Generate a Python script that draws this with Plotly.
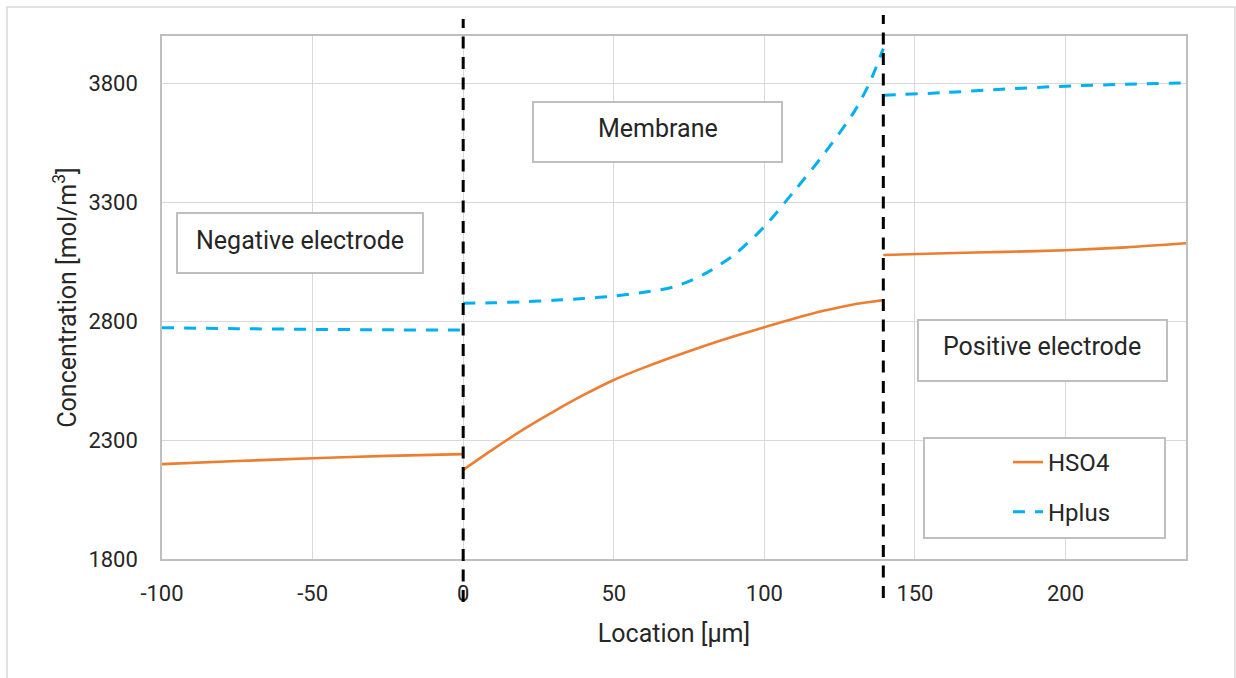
import plotly.graph_objects as go

# Location [µm] samples for the three regions of the cell
neg_x = [-100, -75, -50, -25, 0]
mem_x = [0, 10, 20, 30, 40, 50, 60, 70, 80, 90, 100, 110, 120, 130, 135, 139.5]
pos_x = [139.5, 160, 180, 200, 220, 240]

# HSO4 concentration [mol/m3]
neg_hso4 = [2199, 2212, 2224, 2234, 2241]
mem_hso4 = [2175, 2262, 2345, 2420, 2490, 2553, 2605, 2652, 2696, 2737, 2775, 2812, 2845, 2872, 2881, 2889]
pos_hso4 = [3079, 3086, 3092, 3099, 3111, 3128]

# Hplus concentration [mol/m3]
neg_hplus = [2773, 2769, 2766, 2764, 2763]
mem_hplus = [2876, 2878, 2882, 2888, 2896, 2906, 2922, 2945, 2998, 3080, 3198, 3349, 3507, 3685, 3805, 3947]
pos_hplus = [3751, 3762, 3777, 3789, 3797, 3803]

# membrane / electrode interfaces
interfaces = [0, 139.5]

x_ticks = [-100, -50, 0, 50, 100, 150, 200]
y_ticks = [1800, 2300, 2800, 3300, 3800]

region_labels = ["Negative electrode", "Membrane", "Positive electrode"]

FONT = "Roboto"
TXT = "#262626"
ORANGE = "#ED7D31"
BLUE = "#00B0F0"


def join(*segments):
    xs, ys = [], []
    for sx, sy in segments:
        if xs:
            xs.append(None)
            ys.append(None)
        xs.extend(sx)
        ys.extend(sy)
    return xs, ys


hx, hy = join((neg_x, neg_hso4), (mem_x, mem_hso4), (pos_x, pos_hso4))
px_, py_ = join((neg_x, neg_hplus), (mem_x, mem_hplus), (pos_x, pos_hplus))

fig = go.Figure()
fig.add_trace(go.Scatter(x=hx, y=hy, mode="lines", name="HSO4", legendgroup="a",
                         connectgaps=False,
                         line=dict(color=ORANGE, width=2.6, shape="spline", smoothing=0.8)))
fig.add_trace(go.Scatter(x=px_, y=py_, mode="lines", name="Hplus", legendgroup="b",
                         connectgaps=False,
                         line=dict(color=BLUE, width=3, dash="12px,10px",
                                   shape="spline", smoothing=0.8)))

L, R, T, B = 162, 50, 36, 119
W, H = 1236, 678
pw, ph = W - L - R, H - T - B


def pxx(p):
    return (p - L) / pw


def pxy(p):
    return (H - B - p) / ph


shapes = []
# outer chart frame
shapes.append(dict(type="rect", xref="paper", yref="paper",
                   x0=pxx(7), x1=pxx(1235), y0=pxy(690), y1=pxy(7),
                   line=dict(color="#d9d9d9", width=1.5), layer="below"))
# interface markers
for xv, top, bot in zip(interfaces, [19, 15], [602, 598]):
    shapes.append(dict(type="line", xref="x", yref="paper",
                       x0=xv, x1=xv, y0=pxy(bot), y1=pxy(top),
                       line=dict(color="black", width=3, dash="12px,8.5px")))
# region label frames
boxes = [(177, 423, 213, 273), (533, 782, 102, 162), (918, 1167, 320, 381)]
for x0, x1, y0, y1 in boxes:
    shapes.append(dict(type="rect", xref="paper", yref="paper",
                       x0=pxx(x0), x1=pxx(x1), y0=pxy(y1), y1=pxy(y0),
                       fillcolor="white", line=dict(color="#bfbfbf", width=2)))
# legend frame
shapes.append(dict(type="rect", xref="paper", yref="paper",
                   x0=pxx(924), x1=pxx(1165), y0=pxy(538), y1=pxy(438),
                   fillcolor="white", line=dict(color="#bfbfbf", width=2)))

annotations = []
for text, cx, cy in zip(region_labels, [300.3, 657.8, 1042.2], [240, 128, 346.5]):
    annotations.append(dict(text=text, xref="paper", yref="paper",
                            x=pxx(cx), y=pxy(cy), xanchor="center", yanchor="middle",
                            showarrow=False,
                            font=dict(family=FONT, size=25, color=TXT)))

fig.update_layout(
    width=W, height=H,
    margin=dict(l=L, r=R, t=T, b=B, autoexpand=False),
    paper_bgcolor="white", plot_bgcolor="white",
    font=dict(family=FONT, color=TXT),
    shapes=shapes,
    annotations=annotations,
    legend=dict(x=pxx(1008), y=pxy(440), xanchor="left", yanchor="top",
                bgcolor="rgba(0,0,0,0)", borderwidth=0,
                font=dict(family=FONT, size=24, color=TXT),
                tracegroupgap=15.5, traceorder="grouped"),
)

fig.update_xaxes(range=[-100, 240], tickvals=x_ticks, ticktext=[str(v) for v in x_ticks],
                 showgrid=True, gridcolor="#d9d9d9", gridwidth=1.3, zeroline=False,
                 showline=True, mirror=True, linecolor="#bfbfbf", linewidth=1.5,
                 ticks="", ticklabelstandoff=14,
                 tickfont=dict(family=FONT, size=22, color=TXT),
                 title=dict(text="Location [µm]", standoff=19,
                            font=dict(family=FONT, size=25, color=TXT)),
                 automargin=False)
fig.update_yaxes(range=[1800, 4000], tickvals=y_ticks, ticktext=[str(v) for v in y_ticks],
                 showgrid=True, gridcolor="#d9d9d9", gridwidth=1.3, zeroline=False,
                 showline=True, mirror=True, linecolor="#bfbfbf", linewidth=1.5,
                 ticks="", ticklabelstandoff=18,
                 tickfont=dict(family=FONT, size=22, color=TXT),
                 title=dict(text="Concentration [mol/m<sup>3</sup>]", standoff=5,
                            font=dict(family=FONT, size=25, color=TXT)),
                 automargin=False)

fig.write_html("out.html")
